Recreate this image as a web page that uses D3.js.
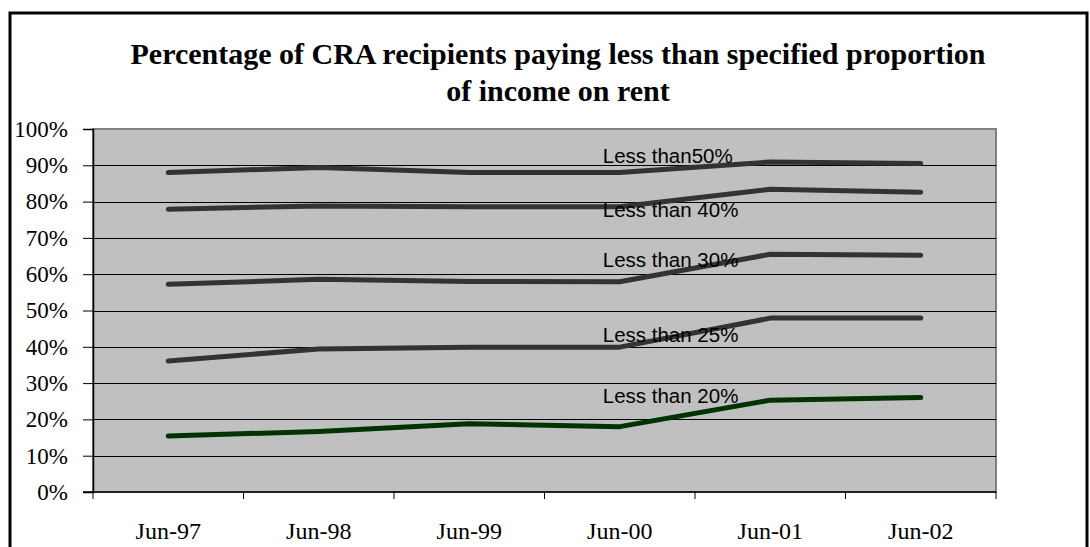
<!DOCTYPE html>
<html>
<head>
<meta charset="utf-8">
<script src="https://cdn.jsdelivr.net/npm/d3@7"></script>
<style>
  body { margin: 0; background: #fff; }
  svg { display: block; }
</style>
</head>
<body>
<script>
//Width and height
var w = 1090;
var h = 547;

//Categories and series
var months = ["Jun-97", "Jun-98", "Jun-99", "Jun-00", "Jun-01", "Jun-02"];
var lessThan50 = [0.880, 0.894, 0.880, 0.880, 0.909, 0.905];
var lessThan40 = [0.779, 0.788, 0.786, 0.786, 0.834, 0.826];
var lessThan30 = [0.572, 0.586, 0.580, 0.579, 0.655, 0.652];
var lessThan25 = [0.361, 0.394, 0.399, 0.399, 0.479, 0.479];
var lessThan20 = [0.154, 0.167, 0.188, 0.180, 0.253, 0.260];
var seriesNames = ["Less than50%", "Less than 40%", "Less than 30%", "Less than 25%", "Less than 20%"];
var yTicks = [0, 0.1, 0.2, 0.3, 0.4, 0.5, 0.6, 0.7, 0.8, 0.9, 1];
var titleLines = ["Percentage of CRA recipients paying less than specified proportion", "of income on rent"];

var allSeries = [lessThan50, lessThan40, lessThan30, lessThan25, lessThan20];
var lineColors = ["#333333", "#333333", "#333333", "#333333", "#003300"];
//where each text label sits (value on the y axis for its baseline)
var labelAt = [0.906, 0.758, 0.621, 0.414, 0.246];

//Plot area
var plotLeft = 93, plotRight = 996, plotTop = 129, plotBottom = 492;

var svg = d3.select("body").append("svg").attr("width", w).attr("height", h);

//Outer chart frame
svg.append("rect")
  .attr("x", 10).attr("y", 13)
  .attr("width", 1077).attr("height", 600)
  .attr("fill", "#fff")
  .attr("stroke", "#000")
  .attr("stroke-width", 3);

//Scales
var xScale = d3.scaleBand().domain(months).range([plotLeft, plotRight]).padding(0);
var yScale = d3.scaleLinear().domain([0, 1]).range([plotBottom, plotTop]);

//Plot background
svg.append("rect")
  .attr("x", plotLeft).attr("y", plotTop)
  .attr("width", plotRight - plotLeft).attr("height", plotBottom - plotTop)
  .attr("fill", "#c0c0c0")
  .attr("stroke", "#808080")
  .attr("stroke-width", 2);

//Gridlines
svg.append("g")
  .selectAll("line")
  .data(yTicks.slice(1, -1))
  .enter()
  .append("line")
  .attr("x1", plotLeft).attr("x2", plotRight)
  .attr("y1", function (d) { return Math.round(yScale(d)) + 0.5; })
  .attr("y2", function (d) { return Math.round(yScale(d)) + 0.5; })
  .attr("stroke", "#000")
  .attr("stroke-width", 1);

//Y axis
var yAxis = d3.axisLeft(yScale)
  .tickValues(yTicks)
  .tickFormat(d3.format(".0%"))
  .tickSize(10)
  .tickPadding(15);

var gy = svg.append("g")
  .attr("transform", "translate(" + plotLeft + ",0)")
  .call(yAxis);
gy.select(".domain").attr("stroke", "#000").attr("stroke-width", 1.5);
gy.selectAll(".tick line").attr("stroke", "#000");
gy.selectAll(".tick text")
  .attr("fill", "#000")
  .style("font-family", "'Liberation Serif', 'Times New Roman', serif")
  .style("font-size", "23px");

//X axis line and tick marks at category boundaries
svg.append("line")
  .attr("x1", plotLeft - 10).attr("x2", plotRight)
  .attr("y1", plotBottom).attr("y2", plotBottom)
  .attr("stroke", "#000").attr("stroke-width", 1.5);

var bounds = months.map(function (m) { return xScale(m); }).concat([xScale(months[months.length - 1]) + xScale.bandwidth()]);
svg.append("g")
  .selectAll("line")
  .data(bounds)
  .enter()
  .append("line")
  .attr("x1", function (d) { return d; })
  .attr("x2", function (d) { return d; })
  .attr("y1", plotBottom).attr("y2", plotBottom + 7)
  .attr("stroke", "#000");

svg.append("g")
  .selectAll("text")
  .data(months)
  .enter()
  .append("text")
  .attr("x", function (d) { return xScale(d) + xScale.bandwidth() / 2; })
  .attr("y", 539)
  .attr("text-anchor", "middle")
  .style("font-family", "'Liberation Serif', 'Times New Roman', serif")
  .style("font-size", "24px")
  .text(function (d) { return d; });

//Line generator
var line = d3.line()
  .x(function (d, i) { return xScale(months[i]) + xScale.bandwidth() / 2; })
  .y(function (d) { return yScale(d); });

svg.append("g")
  .selectAll("path")
  .data(allSeries)
  .enter()
  .append("path")
  .attr("d", line)
  .attr("fill", "none")
  .attr("stroke", function (d, i) { return lineColors[i]; })
  .attr("stroke-width", 5)
  .attr("stroke-linecap", "round")
  .attr("stroke-linejoin", "round");

//Series labels
svg.append("g")
  .selectAll("text")
  .data(seriesNames)
  .enter()
  .append("text")
  .attr("x", xScale("Jun-00") + xScale.bandwidth() / 2 - 17)
  .attr("y", function (d, i) { return yScale(labelAt[i]); })
  .style("font-family", "'Liberation Sans', Arial, sans-serif")
  .style("font-size", "20.5px")
  .attr("fill", "#000")
  .text(function (d) { return d; });

//Title
svg.append("g")
  .selectAll("text")
  .data(titleLines)
  .enter()
  .append("text")
  .attr("x", 558)
  .attr("y", function (d, i) { return 64 + i * 37; })
  .attr("text-anchor", "middle")
  .style("font-family", "'Liberation Serif', 'Times New Roman', serif")
  .style("font-size", "30px")
  .style("font-weight", "bold")
  .text(function (d) { return d; });
</script>
</body>
</html>
